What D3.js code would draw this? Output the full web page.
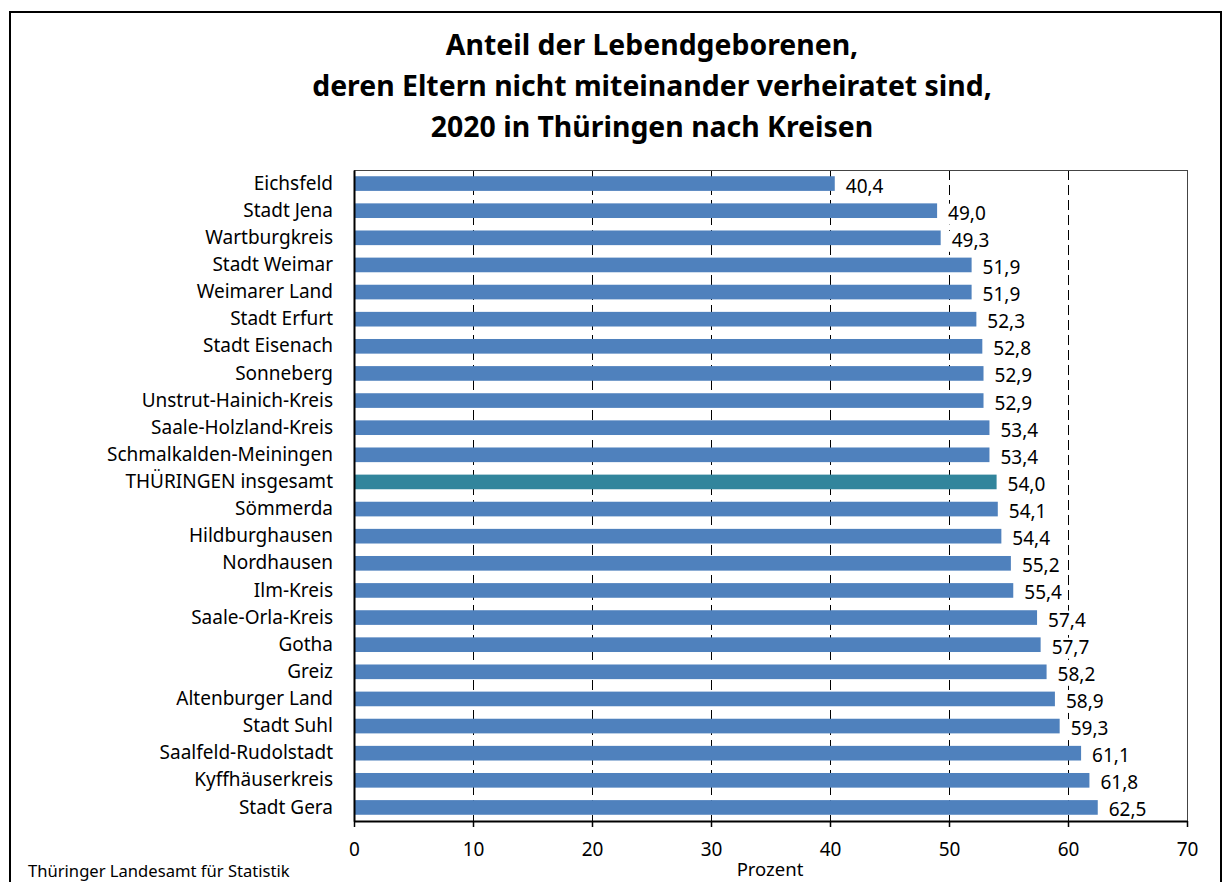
<!DOCTYPE html>
<html>
<head>
<meta charset="utf-8">
<script src="https://cdn.jsdelivr.net/npm/d3@7"></script>
<style>
  body { margin: 0; background: #fff; }
  text { font-family: "Noto Sans", "Open Sans", sans-serif; fill: #000; }
  .title { font-weight: bold; font-size: 28.4px; }
  .grid line { stroke: #000; stroke-dasharray: 10 5; stroke-width: 1; }
</style>
</head>
<body>
<svg id="chart" width="1225" height="882"></svg>
<script>
// Kreise, sortiert wie in der Vorlage
const kreise = [
  "Eichsfeld", "Stadt Jena", "Wartburgkreis", "Stadt Weimar", "Weimarer Land",
  "Stadt Erfurt", "Stadt Eisenach", "Sonneberg", "Unstrut-Hainich-Kreis",
  "Saale-Holzland-Kreis", "Schmalkalden-Meiningen", "THÜRINGEN insgesamt",
  "Sömmerda", "Hildburghausen", "Nordhausen", "Ilm-Kreis", "Saale-Orla-Kreis",
  "Gotha", "Greiz", "Altenburger Land", "Stadt Suhl", "Saalfeld-Rudolstadt",
  "Kyffhäuserkreis", "Stadt Gera"
];
const anteil = [
  40.4, 49.0, 49.3, 51.9, 51.9, 52.3, 52.8, 52.9, 52.9, 53.4, 53.4, 54.0,
  54.1, 54.4, 55.2, 55.4, 57.4, 57.7, 58.2, 58.9, 59.3, 61.1, 61.8, 62.5
];
const xTicks = [0, 10, 20, 30, 40, 50, 60, 70];
const titelZeilen = [
  "Anteil der Lebendgeborenen,",
  "deren Eltern nicht miteinander verheiratet sind,",
  "2020 in Thüringen nach Kreisen"
];

const data = kreise.map((k, i) => ({ name: k, value: anteil[i] }));

const svg = d3.select("#chart");
const fs = 19;

// Rahmen
svg.append("rect")
  .attr("x", 10).attr("y", 12)
  .attr("width", 1211).attr("height", 900)
  .attr("fill", "none").attr("stroke", "#000").attr("stroke-width", 2);

// Titel
svg.append("text")
  .attr("class", "title")
  .attr("text-anchor", "middle")
  .selectAll("tspan").data(titelZeilen).enter()
  .append("tspan")
  .attr("x", 652)
  .attr("y", (d, i) => 55 + i * 41)
  .text(d => d);

const margin = { left: 354, right: 1187, top: 170, bottom: 821 };

const x = d3.scaleLinear().domain([0, 70]).range([margin.left, margin.right]);
const y = d3.scaleBand().domain(kreise).range([margin.top, margin.bottom]).paddingInner(0.46).paddingOuter(0.23);

// Gitterlinien (auf halbe Pixel gelegt, damit sie scharf bleiben)
svg.append("g").attr("class", "grid")
  .selectAll("line").data(xTicks.filter(t => t > 0 && t < 70)).enter()
  .append("line")
  .attr("x1", d => Math.round(x(d)) + 0.5).attr("x2", d => Math.round(x(d)) + 0.5)
  .attr("y1", margin.top).attr("y2", margin.bottom);

// Plotrahmen oben/rechts
svg.append("line")
  .attr("x1", margin.left).attr("x2", margin.right)
  .attr("y1", margin.top + 0.5).attr("y2", margin.top + 0.5)
  .attr("stroke", "#444").attr("stroke-width", 1);
svg.append("line")
  .attr("x1", margin.right + 0.5).attr("x2", margin.right + 0.5)
  .attr("y1", margin.top).attr("y2", margin.bottom)
  .attr("stroke", "#444").attr("stroke-width", 1);

// Balken
svg.append("g")
  .selectAll("rect").data(data).enter()
  .append("rect")
  .attr("x", x(0))
  .attr("y", d => y(d.name))
  .attr("width", d => x(d.value) - x(0))
  .attr("height", y.bandwidth())
  .attr("fill", d => d.name.startsWith("THÜRINGEN") ? "#31859c" : "#4f81bd");

// Werte
const labels = svg.append("g")
  .selectAll("g").data(data).enter()
  .append("g")
  .attr("transform", d => "translate(" + (x(d.value) + 11) + "," + (y(d.name) + y.bandwidth() / 2 + 9) + ")");
labels.append("rect")
  .attr("x", -3).attr("y", -16)
  .attr("width", 46).attr("height", 21)
  .attr("fill", "#fff");
labels.append("text")
  .attr("font-size", fs)
  .text(d => d.value.toFixed(1).replace(".", ","));

// y-Achse
const yAxis = svg.append("g")
  .attr("transform", "translate(" + margin.left + ",0)")
  .call(d3.axisLeft(y).tickSize(0).tickPadding(21));
yAxis.select(".domain").attr("stroke", "#000").attr("stroke-width", 2);
yAxis.selectAll("text").attr("font-size", fs).attr("dy", "0.32em");

// x-Achse
const xAxis = svg.append("g")
  .attr("transform", "translate(0," + margin.bottom + ")")
  .call(d3.axisBottom(x).tickValues(xTicks).tickSize(6).tickSizeOuter(0).tickPadding(16));
xAxis.select(".domain").attr("stroke", "#000").attr("stroke-width", 2);
xAxis.selectAll(".tick line").attr("stroke", "#000").attr("stroke-width", 1.5);
xAxis.selectAll("text").attr("font-size", fs);

svg.append("text")
  .attr("x", 770).attr("y", 876)
  .attr("text-anchor", "middle")
  .attr("font-size", 18.5)
  .text("Prozent");

svg.append("text")
  .attr("x", 28).attr("y", 877)
  .attr("font-size", 16.6)
  .text("Thüringer Landesamt für Statistik");
</script>
</body>
</html>
